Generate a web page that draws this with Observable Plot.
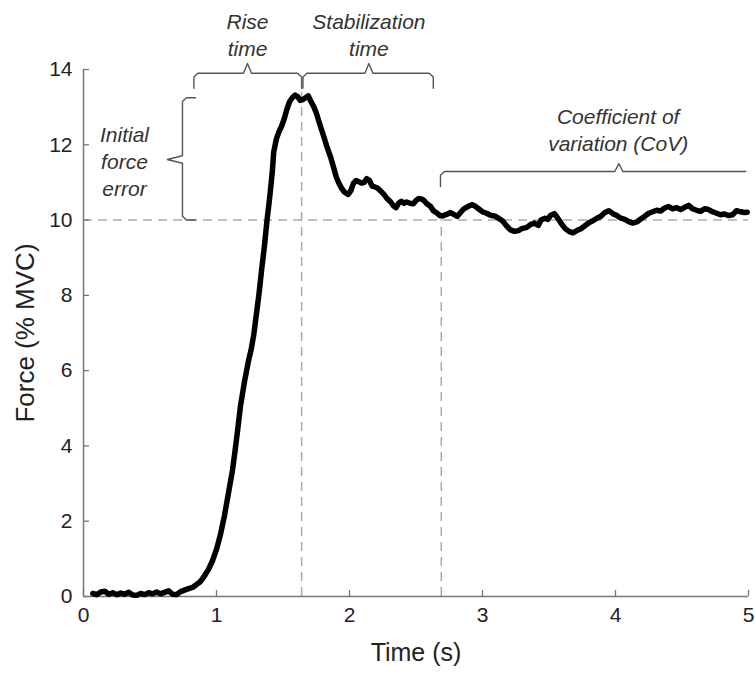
<!DOCTYPE html>
<html><head><meta charset="utf-8">
<script src="https://cdn.jsdelivr.net/npm/d3@7"></script>
<script src="https://cdn.jsdelivr.net/npm/@observablehq/plot@0.6"></script>
<style>body{margin:0;background:#fff}</style>
</head><body><div id="chart"></div>
<script>
// Force trace (time in s, force in % MVC)
const time = [0.07,0.10,0.13,0.16,0.19,0.22,0.25,0.28,0.31,0.34,0.37,0.40,0.43,0.46,0.49,0.52,0.55,0.58,0.61,0.64,0.67,0.70,0.73,0.76,0.79,0.82,0.85,0.88,0.91,0.94,0.97,1.00,1.03,1.06,1.09,1.12,1.14,1.16,1.18,1.21,1.24,1.26,1.28,1.30,1.32,1.34,1.36,1.38,1.40,1.42,1.43,1.45,1.47,1.49,1.51,1.53,1.55,1.57,1.59,1.61,1.63,1.65,1.67,1.69,1.71,1.73,1.75,1.77,1.79,1.81,1.83,1.86,1.88,1.90,1.92,1.94,1.96,1.99,2.01,2.03,2.05,2.07,2.09,2.11,2.13,2.15,2.17,2.19,2.21,2.24,2.26,2.28,2.31,2.33,2.35,2.37,2.39,2.41,2.43,2.46,2.48,2.50,2.52,2.54,2.56,2.58,2.61,2.63,2.66,2.68,2.70,2.73,2.76,2.78,2.81,2.84,2.86,2.89,2.92,2.94,2.97,3.00,3.03,3.06,3.09,3.12,3.15,3.18,3.21,3.24,3.27,3.30,3.33,3.36,3.39,3.42,3.44,3.47,3.49,3.51,3.54,3.56,3.59,3.62,3.65,3.68,3.71,3.74,3.77,3.80,3.83,3.86,3.89,3.92,3.95,3.98,4.01,4.04,4.07,4.10,4.13,4.16,4.19,4.22,4.25,4.28,4.31,4.34,4.37,4.40,4.43,4.46,4.49,4.52,4.55,4.58,4.61,4.64,4.67,4.70,4.73,4.76,4.79,4.82,4.85,4.88,4.91,4.94,4.97,4.99];
const force = [0.08,0.05,0.12,0.14,0.06,0.10,0.05,0.09,0.06,0.11,0.04,0.03,0.08,0.05,0.10,0.07,0.12,0.07,0.11,0.15,0.06,0.05,0.13,0.17,0.21,0.24,0.32,0.40,0.55,0.72,0.95,1.25,1.65,2.15,2.75,3.35,3.88,4.45,5.05,5.70,6.25,6.55,6.95,7.50,8.05,8.70,9.30,10.00,10.60,11.30,11.80,12.15,12.35,12.50,12.70,12.95,13.15,13.25,13.32,13.28,13.18,13.20,13.25,13.30,13.15,13.02,12.85,12.62,12.40,12.18,11.95,11.65,11.40,11.15,10.98,10.85,10.75,10.68,10.78,10.98,11.05,11.02,10.98,11.00,11.10,11.05,10.90,10.88,10.85,10.75,10.68,10.58,10.48,10.38,10.33,10.45,10.50,10.45,10.48,10.44,10.43,10.52,10.57,10.56,10.52,10.44,10.36,10.25,10.18,10.12,10.11,10.15,10.20,10.16,10.10,10.22,10.30,10.36,10.41,10.38,10.30,10.22,10.18,10.13,10.11,10.05,9.98,9.85,9.74,9.70,9.72,9.78,9.80,9.88,9.92,9.86,10.00,10.05,10.02,10.12,10.17,10.08,9.92,9.78,9.70,9.66,9.72,9.77,9.85,9.93,9.98,10.05,10.10,10.20,10.25,10.17,10.12,10.05,10.02,9.96,9.92,9.95,10.03,10.10,10.18,10.22,10.26,10.24,10.32,10.36,10.30,10.33,10.28,10.34,10.39,10.30,10.26,10.23,10.30,10.28,10.22,10.18,10.14,10.16,10.12,10.14,10.25,10.22,10.20,10.21];

const xTicks = [0, 1, 2, 3, 4, 5];
const yTicks = [0, 2, 4, 6, 8, 10, 12, 14];
const targetForce = 10;
const markerTimes = [1.64, 2.69];
const markerTops = [13.5, 10];

// Annotation labels
const labelText = ["Rise\ntime", "Stabilization\ntime", "Initial\nforce\nerror", "Coefficient of\nvariation (CoV)"];
const labelX = [1.233, 2.146, 0.308, 4.02];
const labelY = [14.94, 14.94, 11.58, 12.42];

// Horizontal braces: start, end, tip position, level, leg ends, tip height
const hBraceStart = [0.83, 1.65, 2.684];
const hBraceEnd = [1.64, 2.63, 4.98];
const hBraceMid = [1.233, 2.146, 4.025];
const hBraceLevel = [13.9, 13.9, 11.29];
const hBraceLegLeft = [13.5, 13.5, 10.89];
const hBraceLegRight = [13.5, 13.5, 11.29];
const hBraceTip = [14.16, 14.16, 11.5];
// Vertical brace (initial force error)
const vBrace = {x: 0.744, yLow: 10.0, yHigh: 13.25, endX: 0.842, tipX: 0.63, tipY: 11.61};

const trace = time.map((t, i) => ({t, f: force[i]}));
const markers = markerTimes.map((t, i) => ({t, top: markerTops[i]}));
const labels = labelText.map((text, i) => ({text, x: labelX[i], y: labelY[i]}));

const rx = 0.03, ry = 0.1;
const bracePts = [];
hBraceStart.forEach((x1, i) => {
  const x2 = hBraceEnd[i], xm = hBraceMid[i], y = hBraceLevel[i];
  const pts = [
    [x1, hBraceLegLeft[i]], [x1, y - ry], [x1 + rx, y], [xm - rx, y], [xm, hBraceTip[i]],
    [xm + rx, y], [x2 - rx, y]
  ];
  if (hBraceLegRight[i] < y) pts.push([x2, y - ry], [x2, hBraceLegRight[i]]); else pts.push([x2, y]);
  pts.forEach(([x, yy]) => bracePts.push({id: "h" + i, x, y: yy}));
});
[[vBrace.endX, vBrace.yHigh], [vBrace.x + rx, vBrace.yHigh], [vBrace.x, vBrace.yHigh - ry],
 [vBrace.x, vBrace.tipY + ry], [vBrace.tipX, vBrace.tipY], [vBrace.x, vBrace.tipY - ry],
 [vBrace.x, vBrace.yLow + ry], [vBrace.x + rx, vBrace.yLow], [vBrace.endX, vBrace.yLow]]
  .forEach(([x, y]) => bracePts.push({id: "v", x, y}));

const W = 755, H = 675, ML = 83, MR = 7, MT = 69, MB = 79;
const font = "'Liberation Sans', Arial, Helvetica, sans-serif";
const axisGray = "#777";

const chart = Plot.plot({
  width: W,
  height: H,
  marginLeft: ML,
  marginRight: MR,
  marginTop: MT,
  marginBottom: MB,
  style: {fontFamily: font, background: "#fff", overflow: "visible"},
  x: {domain: [0, 5]},
  y: {domain: [0, 14]},
  marks: [
    Plot.ruleY([targetForce], {stroke: "#aaa", strokeWidth: 1.5, strokeDasharray: "9,6"}),
    Plot.ruleX(markers, {x: "t", y1: 0, y2: "top", stroke: "#aaa", strokeWidth: 1.5, strokeDasharray: "9,6"}),
    Plot.ruleX([0], {stroke: axisGray, strokeWidth: 1.5}),
    Plot.ruleY([0], {stroke: axisGray, strokeWidth: 1.5}),
    // inward tick marks
    Plot.tickX(xTicks, {x: d => d, insetTop: H - MT - MB - 6, stroke: axisGray, strokeWidth: 1.3}),
    Plot.tickY(yTicks, {y: d => d, insetRight: W - ML - MR - 6, stroke: axisGray, strokeWidth: 1.3}),
    Plot.axisX({ticks: xTicks, tickSize: 0, tickPadding: 11, tickFormat: "d", fontSize: 21, fill: "#222", label: null}),
    Plot.axisY({ticks: yTicks, tickSize: 0, tickPadding: 11, tickFormat: "d", fontSize: 21, fill: "#222", label: null}),
    Plot.line(bracePts, {x: "x", y: "y", z: "id", stroke: "#555", strokeWidth: 1.4}),
    Plot.line(trace, {x: "t", y: "f", stroke: "#000", strokeWidth: 5.5, strokeLinejoin: "round", strokeLinecap: "round"}),
    Plot.text(labels, {x: "x", y: "y", text: "text", fontSize: 21, fontStyle: "italic", fill: "#333", lineHeight: 1.28, textAnchor: "middle"}),
    Plot.text(["Time (s)"], {frameAnchor: "bottom", dy: 64, fontSize: 25, fill: "#222"}),
    Plot.text(["Force (% MVC)"], {frameAnchor: "left", dx: -58, rotate: -90, textAnchor: "middle", fontSize: 26, fill: "#222"})
  ]
});
document.getElementById("chart").appendChild(chart);
</script>
</body></html>
